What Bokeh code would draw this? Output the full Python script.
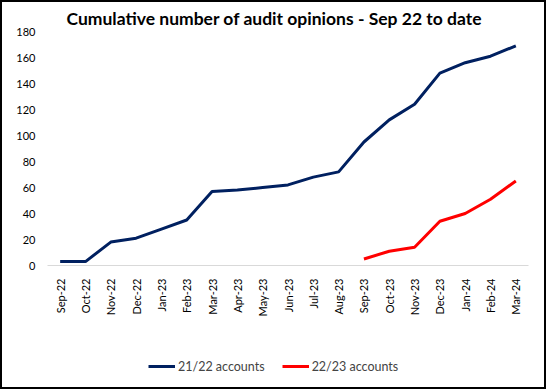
from bokeh.plotting import figure
from bokeh.layouts import column
from bokeh.models import Legend, LegendItem, FixedTicker, Range1d
from bokeh.embed import file_html
from bokeh.resources import INLINE
import math

months = ["Sep-22", "Oct-22", "Nov-22", "Dec-22", "Jan-23", "Feb-23", "Mar-23", "Apr-23",
          "May-23", "Jun-23", "Jul-23", "Aug-23", "Sep-23", "Oct-23", "Nov-23", "Dec-23",
          "Jan-24", "Feb-24", "Mar-24"]
acc_2122 = [3, 3, 18, 21, 28, 35, 57, 58, 60, 62, 68, 72, 95, 112, 124, 148, 156, 161, 169]
months_2223 = ["Sep-23", "Oct-23", "Nov-23", "Dec-23", "Jan-24", "Feb-24", "Mar-24"]
acc_2223 = [5, 11, 14, 34, 40, 51, 65]
y_ticks = [0, 20, 40, 60, 80, 100, 120, 140, 160, 180]
series_names = ["21/22 accounts", "22/23 accounts"]
series_colors = ["#002060", "#FF0000"]

FONT = "Lato"

p = figure(x_range=months, y_range=Range1d(0, 180), width=542, height=330,
           output_backend="svg", toolbar_location=None,
           min_border_left=45, min_border_right=16, min_border_top=29, min_border_bottom=67)
p.title.text = "Cumulative number of audit opinions - Sep 22 to date"
p.title.text_font = FONT
p.title.text_font_size = "17.5px"
p.title.text_font_style = "bold"
p.title.align = "left"
p.title.offset = 19
p.title.standoff = 6
p.title.text_color = "#000000"

p.outline_line_color = None
p.xgrid.grid_line_color = None
p.ygrid.grid_line_color = None

p.line(months, acc_2122, line_color=series_colors[0], line_width=3)
p.line(months_2223, acc_2223, line_color=series_colors[1], line_width=3)

p.yaxis.ticker = FixedTicker(ticks=y_ticks)
p.yaxis.axis_line_color = None
p.yaxis.major_tick_line_color = None
p.yaxis.minor_tick_line_color = None
p.yaxis.major_label_standoff = 6
p.yaxis.major_label_text_font = FONT
p.yaxis.major_label_text_font_size = "11px"
p.yaxis.major_label_text_color = "#000000"

p.xaxis.axis_line_color = "#d9d9d9"
p.xaxis.axis_line_width = 1
p.xaxis.major_tick_line_color = None
p.xaxis.minor_tick_line_color = None
p.xaxis.major_label_orientation = math.pi / 2
p.xaxis.major_label_standoff = 7
p.xaxis.major_label_text_font = FONT
p.xaxis.major_label_text_font_size = "11px"
p.xaxis.major_label_text_color = "#000000"

# legend strip: same series, drawn off-frame so only the legend samples show
p2 = figure(width=542, height=55, output_backend="svg", toolbar_location=None,
            x_range=p.x_range, y_range=Range1d(1000, 1001),
            x_axis_location=None, y_axis_location=None,
            min_border_left=45, min_border_right=16, min_border_top=0, min_border_bottom=0)
p2.outline_line_color = None
p2.xgrid.grid_line_color = None
p2.ygrid.grid_line_color = None
rl1 = p2.line(months, acc_2122, line_color=series_colors[0], line_width=3)
rl2 = p2.line(months_2223, acc_2223, line_color=series_colors[1], line_width=3)
items = [LegendItem(label=series_names[0], renderers=[rl1]),
         LegendItem(label=series_names[1], renderers=[rl2])]
legend = Legend(items=items, orientation="horizontal", location=(101, 11),
                padding=0, margin=0, spacing=17, glyph_width=27, label_standoff=3,
                label_text_font=FONT, label_text_font_size="12.5px",
                border_line_color=None, background_fill_alpha=0)
p2.add_layout(legend, "center")

layout = column(p, p2, spacing=0, styles={"border": "2px solid black"})

open("out.html", "w").write(file_html(layout, INLINE))
